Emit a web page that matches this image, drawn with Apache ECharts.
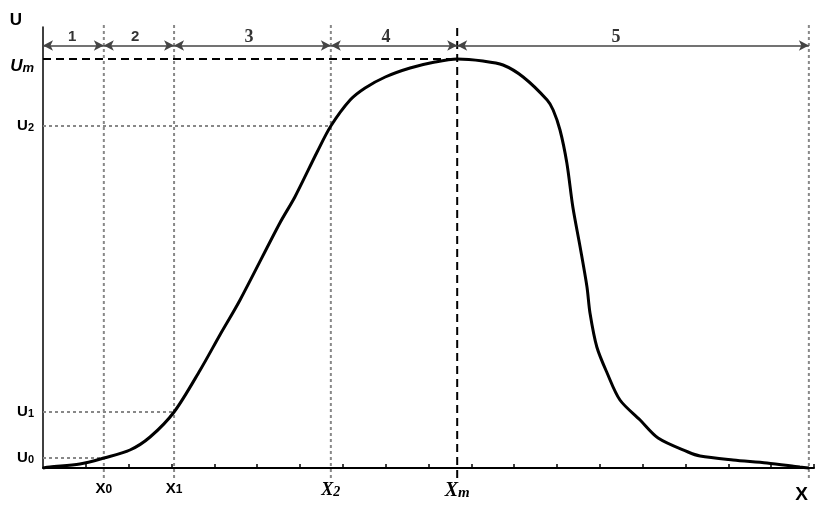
<!DOCTYPE html>
<html><head><meta charset="utf-8">
<script src="https://cdn.jsdelivr.net/npm/echarts@6/dist/echarts.min.js"></script>
<style>html,body{margin:0;padding:0;background:#fff}#c{width:837px;height:515px}</style>
</head><body><div id="c"></div>
<script>
// ---- data ----
const curveX = [0, 0.16, 0.86, 1.42, 2.03, 2.50, 3.06, 3.67, 4.13, 4.60, 5.53, 5.88, 6.40, 6.72, 7.17, 7.52, 7.99, 8.57, 9.15, 9.67, 10.27, 10.74, 11.21, 11.77, 11.91, 12.07, 12.23, 12.37, 12.54, 12.70, 12.77, 12.93, 13.17, 13.47, 13.94, 14.36, 15.06, 15.34, 16.11, 16.90, 17.67, 17.88];
const curveY = [0, 1, 4, 10, 18, 31, 56, 98, 133, 168, 245, 271, 316, 342, 368, 380, 391, 400, 406, 409, 407, 403, 391, 368, 358, 338, 305, 261, 221, 181, 155, 121, 95, 68, 48, 30, 16, 12, 8, 5, 1, 0];
const xTickValues = [1, 2, 3, 4, 5, 6, 7, 8, 9, 10, 11, 12, 13, 14, 15, 16, 17, 18];
const markNamesX = ['X0', 'X1', 'X2', 'Xm'];
const markValuesX = [1.42, 3.06, 6.72, 9.67];
const xEnd = 17.88;
const markNamesY = ['U0', 'U1', 'U2', 'Um'];
const markValuesY = [10, 56, 342, 409];
const zoneLabels = ['1', '2', '3', '4', '5'];
const zoneBounds = [0, 1.42, 3.06, 6.72, 9.67, 17.88];
const zoneLabelX = [0.68, 2.15, 4.81, 8.01, 13.38];
const arrowLevel = 422.5;
const zoneLabelLevel = 431;
const axisMaxX = 18, axisMaxY = 441;
const guideTop = 444, guideBottom = -10;

// ---- build ----
const SANS = 'Liberation Sans, Arial, sans-serif';
const SERIF = 'Liberation Serif, Times New Roman, serif';
const curve = curveX.map((x, i) => [x, curveY[i]]);

const GRAY = {color: '#888', width: 2, type: [3, 3]};
const BLACK = {color: '#000', width: 2, type: [8, 5]};
const guideSegs = [];
[markValuesX[0], markValuesX[1], markValuesX[2], xEnd].forEach(v => {
  guideSegs.push({pts: [[v, guideBottom], [v, guideTop]], style: GRAY});
});
for (let i = 0; i < 3; i++) {
  guideSegs.push({pts: [[0, markValuesY[i]], [markValuesX[i], markValuesY[i]]], style: GRAY});
}
guideSegs.push({pts: [[0, markValuesY[3]], [markValuesX[3], markValuesY[3]]], style: BLACK});
guideSegs.push({pts: [[markValuesX[3], guideBottom], [markValuesX[3], guideTop]], style: BLACK});

const guideSeries = guideSegs.map((g, i) => ({
  name: 'guide' + i, type: 'line', data: g.pts, symbol: 'none', clip: false, silent: true,
  z: g.style === BLACK ? 2 : 1, lineStyle: g.style, emphasis: {disabled: true}
}));

const arrowLines = [];
for (let i = 0; i < zoneBounds.length - 1; i++) {
  arrowLines.push([{coord: [zoneBounds[i], arrowLevel]}, {coord: [zoneBounds[i + 1], arrowLevel]}]);
}
const zoneData = zoneLabels.map((t, i) => ({
  value: [zoneLabelX[i], zoneLabelLevel], name: t,
  label: i < 2 ? {fontFamily: SANS, fontSize: 15} : {fontFamily: SERIF, fontSize: 18}
}));

function splitName(n) { return [n.charAt(0), n.slice(1)]; }
function fmtX(v) {
  const i = markValuesX.findIndex(m => Math.abs(m - v) < 1e-6);
  if (i < 0) return '';
  const [a, b] = splitName(markNamesX[i]);
  const k = i < 2 ? 's' : (i === 2 ? 'r' : 'q');
  return '{' + k + '|' + a + '}{' + k + 'b|' + b + '}';
}
function fmtY(v) {
  const i = markValuesY.findIndex(m => Math.abs(m - v) < 1e-6);
  if (i < 0) return '';
  const [a, b] = splitName(markNamesY[i]);
  const k = i < 3 ? 's' : 'i';
  return '{' + k + '|' + a + '}{' + k + 'b|' + b + '}';
}

const chart = echarts.init(document.getElementById('c'), null, {renderer: 'canvas'});
chart.setOption({
  animation: false,
  backgroundColor: '#fff',
  grid: {left: 43, right: 23, top: 27, bottom: 47, containLabel: false, outerBoundsMode: 'none'},
  xAxis: {
    type: 'value', min: 0, max: axisMaxX, interval: 1,
    axisLine: {show: true, lineStyle: {color: '#000', width: 2}},
    axisTick: {show: true, inside: true, length: 4, customValues: xTickValues, lineStyle: {color: '#000', width: 1.5}},
    splitLine: {show: false},
    axisLabel: {
      customValues: markValuesX, margin: 13, formatter: fmtX,
      rich: {
        s: {fontFamily: SANS, fontWeight: 'bold', fontSize: 15, color: '#000', verticalAlign: 'bottom'},
        sb: {fontFamily: SANS, fontWeight: 'bold', fontSize: 12, color: '#000', verticalAlign: 'bottom'},
        r: {fontFamily: SERIF, fontWeight: 'bold', fontStyle: 'italic', fontSize: 18, color: '#000', verticalAlign: 'bottom'},
        rb: {fontFamily: SERIF, fontWeight: 'bold', fontStyle: 'italic', fontSize: 14, color: '#000', verticalAlign: 'bottom'},
        q: {fontFamily: SERIF, fontWeight: 'bold', fontStyle: 'italic', fontSize: 20, color: '#000', verticalAlign: 'bottom'},
        qb: {fontFamily: SERIF, fontWeight: 'bold', fontStyle: 'italic', fontSize: 15, color: '#000', verticalAlign: 'bottom'}
      }
    },
    name: 'X', nameLocation: 'end', nameGap: 0,
    nameTextStyle: {fontFamily: SANS, fontWeight: 'bold', fontSize: 19, color: '#000', align: 'right', verticalAlign: 'top', padding: [17, 6, 0, 0]}
  },
  yAxis: {
    type: 'value', min: 0, max: axisMaxY,
    axisLine: {show: true, lineStyle: {color: '#000', width: 1.5}},
    axisTick: {show: false},
    splitLine: {show: false},
    axisLabel: {
      customValues: markValuesY, margin: 9, formatter: fmtY,
      rich: {
        s: {fontFamily: SANS, fontWeight: 'bold', fontSize: 15, color: '#000', verticalAlign: 'bottom'},
        sb: {fontFamily: SANS, fontWeight: 'bold', fontSize: 11, color: '#000', verticalAlign: 'bottom'},
        i: {fontFamily: SANS, fontWeight: 'bold', fontStyle: 'italic', fontSize: 17, color: '#000', verticalAlign: 'bottom', padding: [14, 0, 0, 0]},
        ib: {fontFamily: SANS, fontWeight: 'bold', fontStyle: 'italic', fontSize: 13, color: '#000', verticalAlign: 'bottom', padding: [14, 0, 0, 0]}
      }
    },
    name: 'U', nameLocation: 'end', nameGap: -2,
    nameTextStyle: {fontFamily: SANS, fontWeight: 'bold', fontSize: 17, color: '#000', align: 'right', verticalAlign: 'bottom', padding: [0, 21, 0, 0]}
  },
  series: guideSeries.concat([
    {
      name: 'arrows', type: 'line', data: [], clip: false, z: 3, silent: true,
      markLine: {silent: true, symbol: ['arrow', 'arrow'], symbolSize: [8, 10], animation: false, label: {show: false},
        itemStyle: {color: '#333'},
        lineStyle: {color: '#444', width: 1.5, type: 'solid'}, emphasis: {disabled: true}, data: arrowLines}
    },
    {
      name: 'curve', type: 'line', data: curve, smooth: 0.3, symbol: 'none', clip: false, z: 5, silent: true,
      lineStyle: {color: '#000', width: 3}
    },
    {
      name: 'zones', type: 'scatter', data: zoneData, symbolSize: 1, silent: true, z: 6,
      itemStyle: {color: 'rgba(0,0,0,0)'},
      label: {show: true, position: 'inside', formatter: p => p.name, color: '#000', fontWeight: 'bold'}
    }
  ])
});
</script></body></html>
